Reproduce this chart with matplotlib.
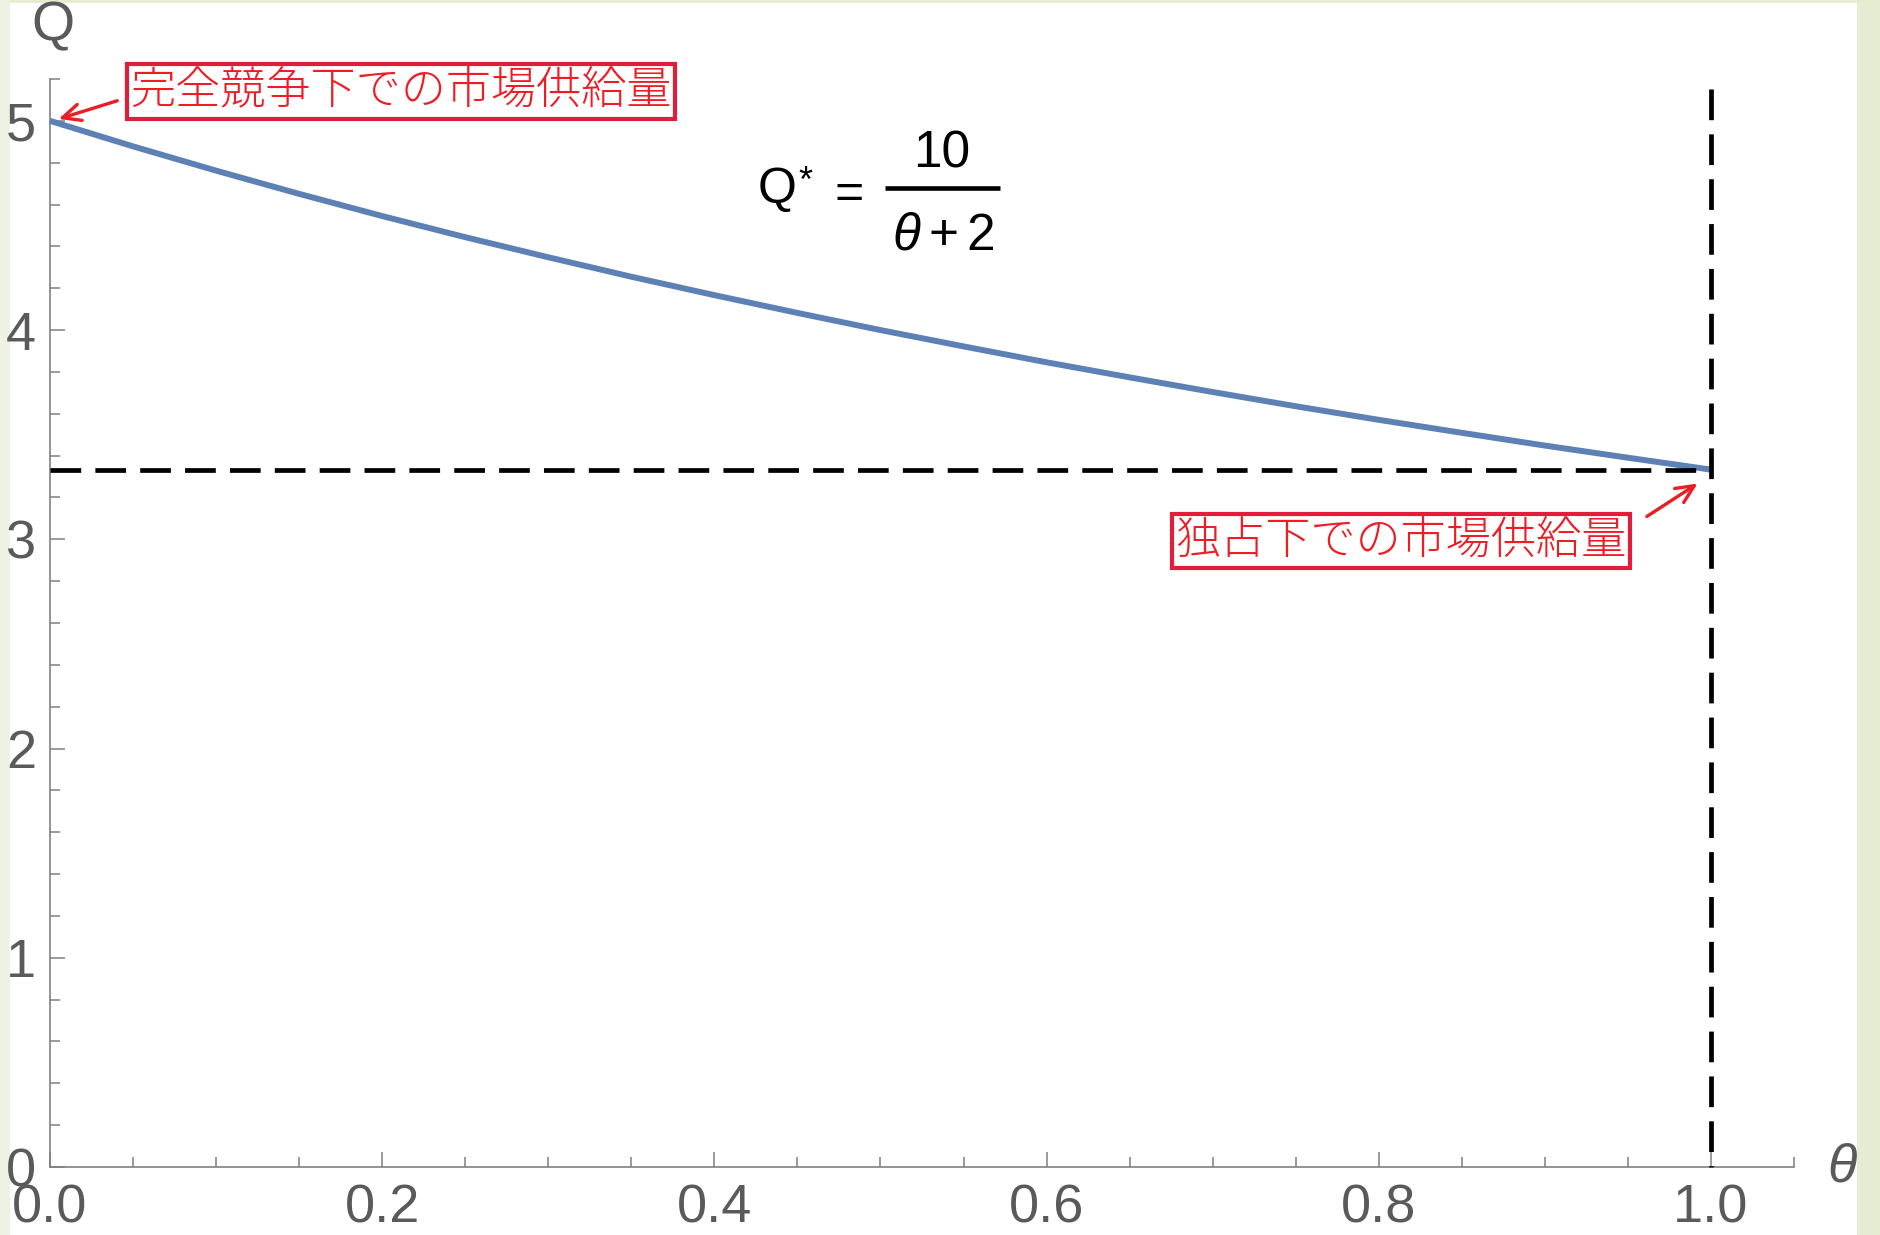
import matplotlib
matplotlib.use("Agg")
import matplotlib.pyplot as plt
from matplotlib.patches import Rectangle
from matplotlib.lines import Line2D
from matplotlib.ticker import MultipleLocator, FormatStrFormatter

# ---- data ----
theta = [0.0, 0.05, 0.1, 0.15, 0.2, 0.25, 0.3, 0.35, 0.4, 0.45, 0.5,
         0.55, 0.6, 0.65, 0.7, 0.75, 0.8, 0.85, 0.9, 0.95, 1.0]
Q = [5.000, 4.878, 4.762, 4.651, 4.545, 4.444, 4.348, 4.255, 4.167, 4.082,
     4.000, 3.922, 3.846, 3.774, 3.704, 3.636, 3.571, 3.509, 3.448, 3.390,
     3.333]
Q_monopoly = 3.333
theta_monopoly = 1.0
label_competitive = "完全競争下での市場供給量"
label_monopoly = "独占下での市場供給量"
x_ticks = [0.0, 0.2, 0.4, 0.6, 0.8, 1.0]
y_ticks = [0, 1, 2, 3, 4, 5]

plt.rcParams['font.family'] = ['Liberation Sans', 'DejaVu Sans']
plt.rcParams['mathtext.fontset'] = 'custom'
plt.rcParams['mathtext.rm'] = 'Liberation Sans'
plt.rcParams['mathtext.it'] = 'Liberation Sans:italic'
plt.rcParams['mathtext.bf'] = 'Liberation Sans:bold'

W, H = 1880, 1235
fig = plt.figure(figsize=(W / 100, H / 100), dpi=100)
fig.patch.set_facecolor('#e6ecd2')
# slide background pieces
fig.patches.append(Rectangle((0, 0), 10 / W, 1, transform=fig.transFigure,
                             facecolor='#eef2e2', edgecolor='none', zorder=-10))
fig.patches.append(Rectangle((10 / W, 0), (1857 - 10) / W, (H - 3) / H,
                             transform=fig.transFigure, facecolor='white',
                             edgecolor='none', zorder=-10))


def fx(px):
    return px / W


def fy(py):
    return 1 - py / H


ax = fig.add_axes([50 / W, 68 / H, 1744 / W, 1088 / H])
ax.set_zorder(5)
ax.patch.set_visible(False)
ax.set_xlim(0, 1.05)
ax.set_ylim(0, 5.2)

axis_col = '#808080'
lab_col = '#5a5a5a'
for s in ['top', 'right']:
    ax.spines[s].set_visible(False)
for s in ['left', 'bottom']:
    ax.spines[s].set_color(axis_col)
    ax.spines[s].set_linewidth(1.2)

ax.xaxis.set_major_locator(MultipleLocator(0.2))
ax.xaxis.set_minor_locator(MultipleLocator(0.05))
ax.yaxis.set_major_locator(MultipleLocator(1))
ax.yaxis.set_minor_locator(MultipleLocator(0.2))
ax.set_xticks(x_ticks)
ax.set_yticks(y_ticks)
ax.xaxis.set_major_formatter(FormatStrFormatter('%.1f'))
ax.yaxis.set_major_formatter(FormatStrFormatter('%d'))
ax.tick_params(which='major', direction='in', length=11, width=1.1,
               color=axis_col, labelsize=39, labelcolor=lab_col)
ax.tick_params(which='minor', direction='in', length=7, width=1.1,
               color=axis_col)
ax.tick_params(axis='x', which='major', pad=12)
ax.tick_params(axis='y', which='major', pad=10)

# curve
ax.plot(theta, Q, color='#5e81b5', lw=4.3, solid_capstyle='butt',
        solid_joinstyle='round', zorder=3, clip_on=False)
# dashed reference lines
ax.plot([0, theta_monopoly], [Q_monopoly, Q_monopoly], color='black', lw=3.4,
        dashes=(6.5, 3), zorder=4, clip_on=False)
ax.plot([theta_monopoly, theta_monopoly], [5.15, 0], color='black', lw=3.4,
        dashes=(6.5, 3), zorder=4, clip_on=False)

# axis labels
ax.text(0.002, 5.45, 'Q', fontsize=40, color=lab_col, ha='center',
        va='center', clip_on=False)
ax.text(1.079, 0.0, r'$\theta$', fontsize=39, color=lab_col, ha='center',
        va='center', clip_on=False)

# formula  Q* = 10 / (θ + 2), laid out piece by piece
fig.text(fx(777), fy(203), 'Q', fontsize=36, color='black', ha='center',
         va='baseline', zorder=10)
fig.text(fx(805), fy(192), '*', fontsize=26, color='black', ha='center',
         va='baseline', zorder=10)
fig.text(fx(849), fy(208), '=', fontsize=36, color='black', ha='center',
         va='baseline', zorder=10)
fig.add_artist(Line2D([fx(885), fx(1000)], [fy(188), fy(188)], color='black',
                      lw=3.3, solid_capstyle='butt', zorder=10))
fig.text(fx(942), fy(168), '10', fontsize=37, color='black', ha='center',
         va='baseline', zorder=10)
fig.text(fx(943), fy(250), r'$\theta + 2$', fontsize=37, color='black',
         ha='center', va='baseline', zorder=10)

# annotations
red = '#ee1c25'
box_edge = '#e01e3c'
jp = ['Noto Sans CJK JP', 'DejaVu Sans']
ax.text(0.2113, 5.139, label_competitive, fontsize=32.5, color=red,
        family=jp, fontweight='light', ha='center', va='center', zorder=6,
        bbox=dict(boxstyle='square,pad=0.08', facecolor='white',
                  edgecolor=box_edge, linewidth=3))
ax.text(0.8134, 2.992, label_monopoly, fontsize=32.5, color=red,
        family=jp, fontweight='light', ha='center', va='center', zorder=6,
        bbox=dict(boxstyle='square,pad=0.08', facecolor='white',
                  edgecolor=box_edge, linewidth=3))
ax.annotate('', xy=(0.0036, 5.005), xytext=(0.0421, 5.10),
            arrowprops=dict(arrowstyle='->,head_length=1.3,head_width=0.6',
                            color=red, lw=2.4), annotation_clip=False,
            zorder=6)
ax.annotate('', xy=(0.9934, 3.274), xytext=(0.960, 3.102),
            arrowprops=dict(arrowstyle='->,head_length=1.3,head_width=0.6',
                            color=red, lw=2.4), annotation_clip=False,
            zorder=6)

fig.savefig('out.png', dpi=100, facecolor=fig.get_facecolor())
